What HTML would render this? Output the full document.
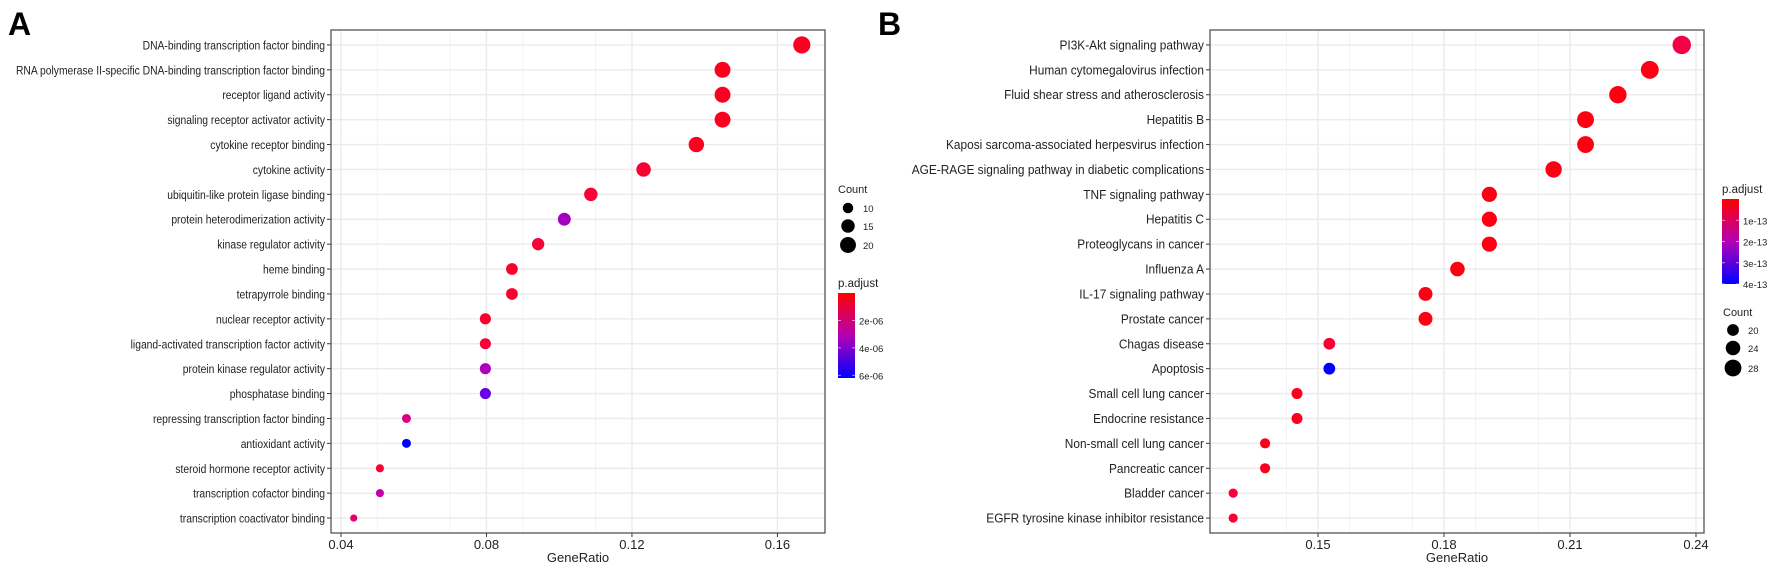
<!DOCTYPE html>
<html><head><meta charset="utf-8"><style>
html,body{margin:0;padding:0;background:#fff;}
svg{display:block;font-family:"Liberation Sans",Arial,sans-serif;}
</style></head><body>
<svg id="chart" width="1772" height="562" viewBox="0 0 1772 562" xmlns="http://www.w3.org/2000/svg">
<defs>
<linearGradient id="gradA" x1="0" y1="0" x2="0" y2="1"><stop offset="0" stop-color="#ff0000"/><stop offset="0.5" stop-color="#b400b4"/><stop offset="1" stop-color="#0000ff"/></linearGradient>
<linearGradient id="gradB" x1="0" y1="0" x2="0" y2="1"><stop offset="0" stop-color="#ff0000"/><stop offset="0.5" stop-color="#b400b4"/><stop offset="1" stop-color="#0000ff"/></linearGradient>
</defs>
<text x="8" y="35" font-size="32" font-weight="bold" fill="#000">A</text>
<text x="878" y="35" font-size="32" font-weight="bold" fill="#000">B</text>
</svg>
<script>
// ---------- Panel A data ----------
const catsA = ["DNA-binding transcription factor binding","RNA polymerase II-specific DNA-binding transcription factor binding","receptor ligand activity","signaling receptor activator activity","cytokine receptor binding","cytokine activity","ubiquitin-like protein ligase binding","protein heterodimerization activity","kinase regulator activity","heme binding","tetrapyrrole binding","nuclear receptor activity","ligand-activated transcription factor activity","protein kinase regulator activity","phosphatase binding","repressing transcription factor binding","antioxidant activity","steroid hormone receptor activity","transcription cofactor binding","transcription coactivator binding"];
const ratioA = [0.1667,0.1449,0.1449,0.1449,0.1377,0.1232,0.1087,0.1014,0.0942,0.0870,0.0870,0.0797,0.0797,0.0797,0.0797,0.0580,0.0580,0.0507,0.0507,0.0435];
const countA = [23,20,20,20,19,17,15,14,13,12,12,11,11,11,11,8,8,7,7,6];
const padjA = [0.1e-6,0.1e-6,0.1e-6,0.1e-6,0.1e-6,0.2e-6,0.3e-6,3.6e-6,0.3e-6,0.2e-6,0.2e-6,0.2e-6,0.3e-6,3.3e-6,5.2e-6,1.6e-6,6.2e-6,0.2e-6,2.6e-6,1.2e-6];
const xTicksA = [0.04,0.08,0.12,0.16];
const xTickLabelsA = ["0.04","0.08","0.12","0.16"];
const countLegA = [10,15,20];
const padjTicksA = [2e-6,4e-6,6e-6];
const padjTickLabelsA = ["2e-06","4e-06","6e-06"];

// ---------- Panel B data ----------
const catsB = ["PI3K-Akt signaling pathway","Human cytomegalovirus infection","Fluid shear stress and atherosclerosis","Hepatitis B","Kaposi sarcoma-associated herpesvirus infection","AGE-RAGE signaling pathway in diabetic complications","TNF signaling pathway","Hepatitis C","Proteoglycans in cancer","Influenza A","IL-17 signaling pathway","Prostate cancer","Chagas disease","Apoptosis","Small cell lung cancer","Endocrine resistance","Non-small cell lung cancer","Pancreatic cancer","Bladder cancer","EGFR tyrosine kinase inhibitor resistance"];
const ratioB = [0.2366,0.2290,0.2214,0.2137,0.2137,0.2061,0.1908,0.1908,0.1908,0.1832,0.1756,0.1756,0.1527,0.1527,0.1450,0.1450,0.1374,0.1374,0.1298,0.1298];
const countB = [31,30,29,28,28,27,25,25,25,24,23,23,20,20,19,19,18,18,17,17];
const padjB = [0.3e-13,0.02e-13,0.02e-13,0.02e-13,0.02e-13,0.02e-13,0.02e-13,0.02e-13,0.02e-13,0.02e-13,0.02e-13,0.02e-13,0.15e-13,4.0e-13,0.05e-13,0.05e-13,0.05e-13,0.05e-13,0.2e-13,0.2e-13];
const xTicksB = [0.15,0.18,0.21,0.24];
const xTickLabelsB = ["0.15","0.18","0.21","0.24"];
const countLegB = [20,24,28];
const padjTicksB = [1e-13,2e-13,3e-13,4e-13];
const padjTickLabelsB = ["1e-13","2e-13","3e-13","4e-13"];

const NS = "http://www.w3.org/2000/svg";
const svg = document.getElementById("chart");
function mk(tag, attrs, parent){
  const e = document.createElementNS(NS, tag);
  for (const k in attrs) e.setAttribute(k, attrs[k]);
  (parent||svg).appendChild(e);
  return e;
}
function col(t){
  t = Math.max(0, Math.min(1, t));
  const r = Math.round(255*Math.sqrt(1-t)), b = Math.round(255*Math.sqrt(t));
  return `rgb(${r},0,${b})`;
}

function panel(cfg){
  const {id, L, R, T, B, x0, px0, pxPer, cats, ratio, count, padj, pmax, ticks, tickLabels, minorStep, rMin, rMax, fs, labelScale} = cfg;
  const g = mk("g", {});
  
  
  const xs = v => px0 + (v - x0) * pxPer;
  const n = cats.length;
  const step = (B - T) / (n - 1 + 1.2);
  const ys = i => T + step*0.6 + i*step;
  mk("rect", {x:L, y:T, width:R-L, height:B-T, fill:"#fff"}, g);
  for (let i=0;i<ticks.length+1;i++){
    const v = ticks[0] + (i-0.5)*minorStep*2;
    const x = xs(v);
    if (x > L && x < R){
      const m = mk("line", {x1:x, x2:x, y1:T, y2:B, stroke:"#f3f3f3", "stroke-width":1}, g);
      
      
    }
  }
  ticks.forEach((v, i) => {
    const x = xs(v);
    const gl = mk("line", {x1:x, x2:x, y1:T, y2:B, stroke:"#ebebeb", "stroke-width":1.4}, g);
    
    
    mk("line", {x1:x, x2:x, y1:B, y2:B+4, stroke:"#333", "stroke-width":1}, g);
    const t = mk("text", {x:x, y:B+16, "font-size":13, "text-anchor":"middle", fill:"#222"}, g);
    t.textContent = tickLabels[i];
    
    
  });
  cats.forEach((c, i) => {
    const y = ys(i);
    const hl = mk("line", {x1:L, x2:R, y1:y, y2:y, stroke:"#ebebeb", "stroke-width":1.4}, g);
    
    
    mk("line", {x1:L-4, x2:L, y1:y, y2:y, stroke:"#333", "stroke-width":1}, g);
    const t = mk("text", {x:0, y:0, "font-size":fs, "text-anchor":"end", fill:"#222",
      transform:`translate(${L-6},${y+4.5}) scale(${labelScale},1)`}, g);
    t.textContent = c;
    
    
  });
  const cmin = Math.min(...count), cmax = Math.max(...count);
  const rad = c => Math.sqrt(rMin*rMin + (rMax*rMax - rMin*rMin) * (c - cmin) / (cmax - cmin));
  cats.forEach((c, i) => {
    const d = mk("circle", {cx:xs(ratio[i]), cy:ys(i), r:rad(count[i]), fill:col(padj[i]/pmax)}, g);
    
    
  });
  const fr = mk("rect", {x:L, y:T, width:R-L, height:B-T, fill:"none", stroke:"#555", "stroke-width":1.3}, g);
  
  
  const xt = mk("text", {x:(L+R)/2, y:B+29, "font-size":13, "text-anchor":"middle", fill:"#222"}, g);
  xt.textContent = "GeneRatio";
  
  
  return rad;
}

const radA = panel({id:"panel-a", L:331, R:825, T:30, B:533, x0:0.04, px0:341, pxPer:3637,
  cats:catsA, ratio:ratioA, count:countA, padj:padjA, pmax:6.2e-6, ticks:xTicksA, tickLabels:xTickLabelsA,
  minorStep:0.01, rMin:3.6, rMax:8.6, fs:12, labelScale:0.86});
const radB = panel({id:"panel-b", L:1210, R:1704, T:30, B:533, x0:0.15, px0:1318, pxPer:4200,
  cats:catsB, ratio:ratioB, count:countB, padj:padjB, pmax:4.0e-13, ticks:xTicksB, tickLabels:xTickLabelsB,
  minorStep:0.0075, rMin:4.6, rMax:9.2, fs:12.5, labelScale:0.95});

function countLegend(x, yTitle, vals, ys, rad, name){
  const g = mk("g", {});
  
  
  const t = mk("text", {x:x-10, y:yTitle, "font-size":11, fill:"#222"}, g);
  t.textContent = "Count";
  vals.forEach((v, i) => {
    const c = mk("circle", {cx:x, cy:ys[i], r:rad(v), fill:"#000"}, g);
    
    
    const l = mk("text", {x:x+15, y:ys[i]+4, "font-size":9.5, fill:"#222"}, g);
    l.textContent = v;
    
    
  });
}
function padjLegend(x, yTitle, top, bot, grad, ticks, labels, pmax, name){
  const g = mk("g", {});
  
  
  const t = mk("text", {x:x, y:yTitle, "font-size":11.5, fill:"#222"}, g);
  t.textContent = "p.adjust";
  mk("rect", {x:x, y:top, width:17, height:bot-top, fill:`url(#${grad})`}, g);
  ticks.forEach((v, i) => {
    const y = top + (bot-top) * v / pmax;
    mk("line", {x1:x, x2:x+3, y1:y, y2:y, stroke:"#fff", "stroke-width":0.8, opacity:0.7}, g);
    mk("line", {x1:x+14, x2:x+17, y1:y, y2:y, stroke:"#fff", "stroke-width":0.8, opacity:0.7}, g);
    const l = mk("text", {x:x+21, y:y+4, "font-size":9.5, fill:"#222"}, g);
    l.textContent = labels[i];
    
    
  });
}
countLegend(848, 193, countLegA, [208,226,245], radA, "count-legend-a");
padjLegend(838, 287, 293, 378, "gradA", padjTicksA, padjTickLabelsA, 6.2e-6, "padj-legend-a");
padjLegend(1722, 193, 199, 284, "gradB", padjTicksB, padjTickLabelsB, 4.0e-13, "padj-legend-b");
countLegend(1733, 316, countLegB, [330,348,368], radB, "count-legend-b");
</script>
</body></html>
